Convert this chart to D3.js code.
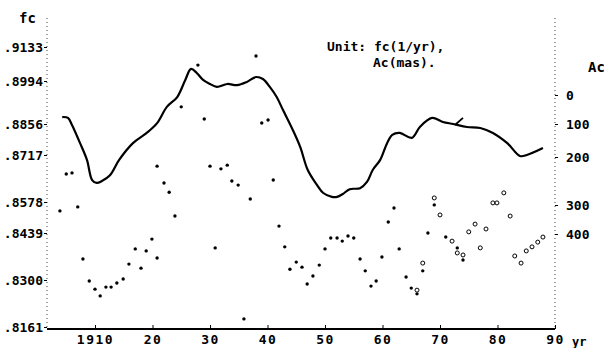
<!DOCTYPE html>
<html>
<head>
<meta charset="utf-8">
<script src="https://cdn.jsdelivr.net/npm/d3@7"></script>
<style>
  body { margin: 0; background: #fff; }
  svg { display: block; }
  text { font-family: "DejaVu Sans Mono", "Liberation Mono", monospace; font-weight: bold; fill: #000; }
</style>
</head>
<body>
<svg id="chart" width="604" height="348"></svg>
<script>
// fc dots (filled), year / value
const fcYears = [1903.9,1905.0,1906.0,1907.0,1907.9,1909.0,1910.0,1910.9,1911.9,1912.8,1913.8,1914.9,1915.9,1917.0,1918.0,1918.9,1919.9,1920.8,1920.8,1922.0,1922.9,1923.9,1925.0,1927.9,1929.0,1930.0,1930.9,1931.9,1933.0,1933.8,1934.9,1935.9,1937.0,1938.0,1939.0,1940.1,1941.0,1942.0,1943.0,1943.9,1945.0,1946.0,1946.9,1947.9,1949.0,1950.0,1951.0,1952.1,1953.0,1954.0,1955.0,1956.1,1957.0,1958.0,1958.9,1959.9,1961.0,1962.0,1962.9,1964.1,1965.0,1966.0,1967.0,1967.9,1969.0,1971.0,1973.0,1974.0];
const fcValues = [.8538,.8661,.8664,.8556,.8362,.8297,.8273,.8253,.8279,.8279,.8291,.8303,.8347,.8392,.8335,.8386,.8421,.8365,.8684,.8634,.8607,.8515,.8911,.9059,.8872,.8684,.8395,.8676,.8687,.8640,.8628,.8185,.8587,.9096,.8859,.8869,.8643,.8470,.8398,.8332,.8353,.8338,.8288,.8312,.8344,.8392,.8424,.8424,.8415,.8430,.8424,.8362,.8327,.8282,.8297,.8368,.8488,.8551,.8392,.8309,.8276,.8259,.8327,.8439,.8565,.8427,.8395,.8359];

// fc open circles (later series)
const fc2Years = [1966.0,1967.0,1969.0,1970.0,1972.1,1973.0,1974.0,1975.0,1976.1,1977.0,1978.0,1979.2,1979.9,1981.1,1982.2,1983.0,1984.1,1985.0,1986.0,1987.0,1987.9];
const fc2Values = [.8270,.8350,.8590,.8520,.8415,.8380,.8374,.8444,.8479,.8395,.8457,.8574,.8574,.8605,.8515,.8371,.8350,.8386,.8398,.8412,.8427];

// Ac curve (mas, right axis, inverted)
const acYears = [1904.3,1905.3,1906.0,1907.4,1908.6,1909.5,1910.3,1911.2,1912.6,1914.2,1916.6,1919.0,1920.8,1922.5,1924.3,1925.7,1926.7,1927.7,1928.8,1930.0,1931.2,1933.0,1934.7,1936.4,1938.0,1939.2,1940.4,1941.6,1942.7,1944.4,1945.7,1947.0,1948.6,1949.7,1951.2,1952.1,1953.1,1954.3,1956.1,1957.3,1958.3,1959.6,1960.8,1961.7,1963.0,1965.1,1966.5,1968.6,1970.5,1972.3,1974.7,1977.0,1979.2,1981.7,1983.9,1985.1,1987.9];
const acValues = [76,79,103,158,206,248,254,250,238,206,158,127,97,41,7,-52,-90,-76,-52,-38,-28,-38,-34,-45,-62,-55,-28,7,52,118,170,227,258,275,283,283,277,267,265,252,227,206,158,133,127,142,109,79,93,100,109,112,127,158,197,194,173];
const acSpurYears = [1972.6, 1974.0];
const acSpurValues = [103, 79];

// axes
const yearTicks = [1910,1920,1930,1940,1950,1960,1970,1980,1990];
const yearLabels = ["1910","20","30","40","50","60","70","80","90"];
const fcTicks = [.9133,.8994,.8856,.8717,.8578,.8439,.8300,.8161];
const fcLabels = [".9133",".8994",".8856",".8717",".8578",".8439",".8300",".8161"];
const acTicks = [0,100,200,300,400];
const acLabels = ["0","100","200","300","400"];

const svg = d3.select("#chart");
const plotL = 47, plotR = 555, plotT = 18, plotB = 329;

const x = d3.scaleLinear().domain([1910, 1990]).range([95, 555]);
// the printed axis has unevenly spaced ticks, so map through each one
const y = d3.scaleLinear().domain(fcTicks).range([47, 81, 124, 155, 202, 233, 280, 327]);
const yAc = d3.scaleLinear().domain(acTicks).range([95, 124, 157, 205, 234]);

// frame: dotted verticals, solid base
svg.append("line").attr("x1", plotL).attr("x2", plotL).attr("y1", plotT).attr("y2", plotB)
  .attr("stroke", "#444").attr("stroke-width", 1).attr("stroke-dasharray", "1 3");
svg.append("line").attr("x1", plotR).attr("x2", plotR).attr("y1", plotT).attr("y2", plotB)
  .attr("stroke", "#444").attr("stroke-width", 1).attr("stroke-dasharray", "1 3");
svg.append("line").attr("x1", plotL).attr("x2", plotR).attr("y1", plotB).attr("y2", plotB)
  .attr("stroke", "#000").attr("stroke-width", 2);

const gx = svg.append("g").attr("transform", `translate(0,${plotB})`)
  .call(d3.axisBottom(x).tickValues(yearTicks).tickFormat((d, i) => yearLabels[i])
    .tickSize(-4).tickPadding(6));
gx.select(".domain").remove();
gx.selectAll("text").attr("font-size", 13).attr("letter-spacing", 1.5)
  .attr("font-family", "DejaVu Sans Mono").attr("font-weight", "bold");

const gy = svg.append("g").attr("transform", `translate(${plotL},0)`)
  .call(d3.axisLeft(y).tickValues(fcTicks).tickFormat((d, i) => fcLabels[i])
    .tickSize(3).tickPadding(1));
gy.select(".domain").remove();
gy.selectAll("text").attr("font-size", 13)
  .attr("font-family", "DejaVu Sans Mono").attr("font-weight", "bold");

const gr = svg.append("g").attr("transform", `translate(${plotR},0)`)
  .call(d3.axisRight(yAc).tickValues(acTicks).tickFormat((d, i) => acLabels[i])
    .tickSize(3).tickPadding(8));
gr.select(".domain").remove();
gr.selectAll("text").attr("font-size", 13)
  .attr("font-family", "DejaVu Sans Mono").attr("font-weight", "bold");

// titles
svg.append("text").attr("x", 19).attr("y", 23).attr("font-size", 14).text("fc");
svg.append("text").attr("x", 588).attr("y", 72).attr("font-size", 14).text("Ac");
svg.append("text").attr("x", 572).attr("y", 346).attr("font-size", 12).text("yr");
svg.append("text").attr("x", 327).attr("y", 51).attr("font-size", 13).text("Unit: fc(1/yr),");
svg.append("text").attr("x", 373).attr("y", 67).attr("font-size", 13).text("Ac(mas).");

// Ac curve
const line = d3.line().x(d => x(d[0])).y(d => yAc(d[1])).curve(d3.curveCatmullRom);
svg.append("path").datum(d3.zip(acYears, acValues)).attr("d", line)
  .attr("fill", "none").attr("stroke", "#000").attr("stroke-width", 2.2);
svg.append("path").datum(d3.zip(acSpurYears, acSpurValues)).attr("d", line)
  .attr("fill", "none").attr("stroke", "#000").attr("stroke-width", 1.8);

// fc dots
svg.append("g").selectAll("circle").data(d3.zip(fcYears, fcValues)).join("circle")
  .attr("cx", d => x(d[0])).attr("cy", d => y(d[1])).attr("r", 1.7).attr("fill", "#000");
svg.append("g").selectAll("circle").data(d3.zip(fc2Years, fc2Values)).join("circle")
  .attr("cx", d => x(d[0])).attr("cy", d => y(d[1])).attr("r", 2)
  .attr("fill", "none").attr("stroke", "#000").attr("stroke-width", 1);
</script>
</body>
</html>
